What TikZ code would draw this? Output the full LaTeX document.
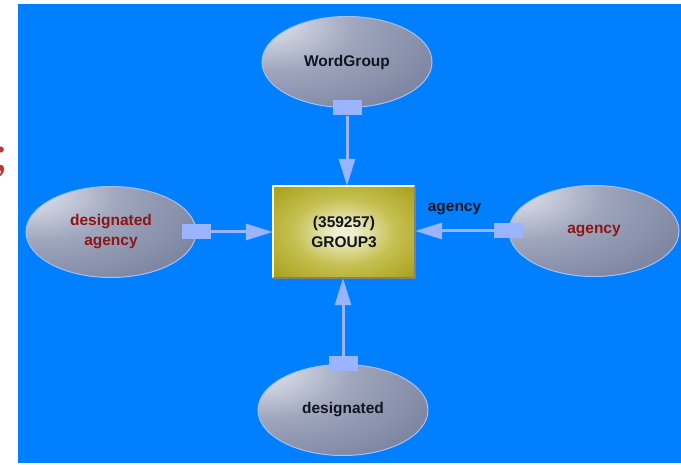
\documentclass[tikz,border=0pt]{standalone}
\usepackage{fontspec}
\setsansfont{Liberation Sans}
\newfontfamily\markfont{Liberation Serif}
\usetikzlibrary{shapes,arrows.meta}
\definecolor{bgblue}{RGB}{0,128,255}
\definecolor{linkblue}{RGB}{155,180,255}
\definecolor{ellline}{RGB}{170,190,245}
\definecolor{ellhi}{RGB}{226,229,239}
\definecolor{ellmid}{RGB}{158,165,188}
\definecolor{elledge}{RGB}{98,108,140}
\definecolor{boxhi}{RGB}{240,240,208}
\definecolor{boxmid}{RGB}{198,192,82}
\definecolor{boxedge}{RGB}{165,158,22}
\definecolor{darkred}{RGB}{140,22,22}
\definecolor{darktext}{RGB}{18,20,34}
\definecolor{markred}{RGB}{185,55,55}
\pgfdeclareradialshading{ellshade}{\pgfpoint{-28bp}{25bp}}{color(0bp)=(ellhi); color(4bp)=(ellhi); color(24bp)=(ellmid); color(62bp)=(elledge); color(100bp)=(elledge)}
\pgfdeclareradialshading{boxshade}{\pgforigin}{color(0bp)=(boxhi); color(3bp)=(boxhi); color(18bp)=(boxmid); color(36bp)=(boxedge); color(75bp)=(boxedge)}
\tikzstyle{entity} = [ellipse, draw=ellline, line width=1pt, shading=ellshade,
    minimum width=170pt, minimum height=91pt, inner sep=0pt, align=center,
    text=darktext, font=\sffamily\bfseries\fontsize{15.5}{20}\selectfont]
\tikzstyle{redentity} = [entity, text=darkred]
\tikzstyle{group} = [rectangle, shading=boxshade, minimum width=142pt,
    minimum height=92pt, inner sep=0pt, align=center, text=darktext,
    font=\sffamily\bfseries\fontsize{15.5}{20}\selectfont]
\tikzstyle{port} = [rectangle, fill=linkblue, minimum width=29pt,
    minimum height=15pt, inner sep=0pt]
\tikzstyle{line} = [draw=linkblue, line width=3pt, -{Triangle[length=27pt,width=16pt]}]
\tikzstyle{elabel} = [text=darktext, font=\sffamily\bfseries\fontsize{15.5}{20}\selectfont]
\begin{document}
\begin{tikzpicture}[x=1pt, y=-1pt, auto]
    % Background
    \useasboundingbox (0,0) rectangle (681,465);
    \fill[white] (0,0) rectangle (681,465);
    \fill[bgblue] (18,4) rectangle (681,463);
    \node[anchor=base west, inner sep=0pt, text=markred,
        font=\markfont\fontsize{50}{50}\selectfont] (mark) at (-6,171) {;};
    % Place nodes
    \node [group] (Group) at (344,232) {(359257)\\GROUP3};
    \node [entity] (WordGroup) at (347,62) {WordGroup};
    \node [redentity] (DesAgency) at (111,232) {designated\\agency};
    \node [redentity] (Agency) at (594,231) {agency};
    \node [entity] (Designated) at (343,410) {designated};
    % Ports
    \node [port] (WordGroupPort) at (WordGroup.south) {};
    \node [port] (DesAgencyPort) at (DesAgency.east) {};
    \node [port] (AgencyPort) at (Agency.west) {};
    \node [port] (DesignatedPort) at (Designated.north) {};
    % Box border
    \draw[white, line width=2pt] (Group.south west) -- (Group.north west) -- (Group.north east);
    \draw[gray, line width=2pt] (Group.north east) -- (Group.south east) -- (Group.south west);
    % Draw edges
    \path [line] (WordGroupPort) -- (WordGroupPort |- Group.north);
    \path [line] (DesignatedPort) -- (DesignatedPort |- Group.south);
    \path [line] (DesAgencyPort) -- (Group.west |- DesAgencyPort);
    \path [line] (AgencyPort) -- node[elabel, pos=0.5, above=11pt] {agency} (Group.east |- AgencyPort);
\end{tikzpicture}
\end{document}
